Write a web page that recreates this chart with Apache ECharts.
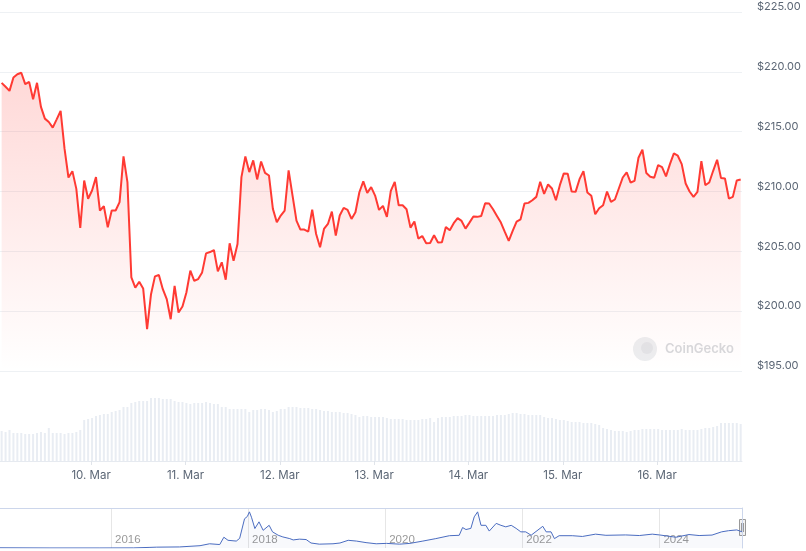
<!DOCTYPE html>
<html><head><meta charset="utf-8">
<script src="https://cdn.jsdelivr.net/npm/echarts@6/dist/echarts.min.js"></script>
<style>html,body{margin:0;padding:0;background:#fff}#c{width:806px;height:551px}</style>
</head><body><div id="c"></div>
<script>
// ---- data (hourly price, USD) ----
const firstTime = '2025-03-09T01:15';   // first hourly point
const lastTime = '2025-03-16T21:15';    // last hourly point
const axisStart = '2025-03-09T00:50';
const axisEnd = '2025-03-16T21:35';
const prices = [219.08,218.75,218.41,219.53,219.80,219.92,218.97,219.16,217.71,219.08,217.07,
216.09,215.81,215.34,216.03,216.73,213.58,211.17,211.70,210.22,206.96,210.92,
209.39,210.08,211.20,208.41,208.77,207.01,208.41,208.41,209.11,212.93,
210.78,202.82,201.96,202.46,201.90,198.49,201.42,202.91,203.02,201.84,
201.01,199.33,202.12,199.89,200.39,201.56,203.38,202.54,202.68,203.24,
204.83,204.94,205.11,203.32,204.08,202.63,205.67,204.22,205.61,211.20,
212.93,211.62,212.60,211.01,212.51,211.56,211.34,208.55,207.43,207.99,
208.41,211.76,209.66,207.57,206.82,206.82,206.65,208.49,206.45,205.34,
206.87,207.29,208.32,206.31,207.99,208.63,208.46,207.71,208.27,209.94,
210.84,209.89,210.36,209.66,208.46,
208.80,207.88,210.06,210.81,208.85,208.85,208.52,206.98,207.49,206.06,
206.28,205.67,205.70,206.34,205.73,205.75,207.04,206.76,207.35,207.77,
207.54,206.90,207.40,207.91,207.88,207.96,209.02,209.00,208.52,207.96,
207.40,206.62,205.87,206.70,207.49,207.68,209.00,209.05,209.27,209.55,
210.81,209.80,210.59,210.25,209.27,210.53,211.51,211.48,210.00,209.97,
211.03,211.70,209.92,209.64,208.10,208.60,208.85,210.00,209.13,209.33,
210.25,211.17,211.59,210.75,210.89,212.82,213.49,211.54,211.23,211.15,
212.21,212.04,211.26,212.29,213.18,212.99,212.29,210.67,210.00,209.55,
209.97,212.54,210.53,210.75,211.73,212.65,211.12,211.09,209.41,209.55,
210.92,211.01];
// hourly volume, million USD
const volumes = [3.0,2.9,3.1,2.8,2.8,2.8,2.7,2.7,2.7,2.8,2.9,2.8,3.3,2.8,2.8,2.8,2.7,2.8,2.8,2.9,3.1,
4.1,4.2,4.3,4.5,4.6,4.7,4.7,4.9,5.0,5.1,
5.4,5.4,5.8,5.9,6.0,6.0,6.0,6.3,6.3,6.3,
6.2,6.2,6.2,6.0,5.9,5.9,5.8,5.7,5.8,5.8,
5.8,5.9,5.8,5.7,5.7,5.4,5.4,5.2,5.2,5.2,
5.2,5.2,4.9,5.1,5.1,5.2,5.2,5.1,4.9,5.0,5.2,
5.2,5.4,5.4,5.4,5.3,5.3,5.3,5.2,5.2,5.1,
5.0,5.0,4.9,4.9,4.9,4.8,4.8,4.7,4.6,4.4,
4.5,4.5,4.4,4.4,4.4,4.4,4.3,4.2,4.2,
4.2,4.2,4.1,4.1,4.1,4.1,4.2,4.2,4.3,3.9,4.3,
4.4,4.4,4.4,4.5,4.5,4.5,4.6,4.6,4.5,4.5,
4.5,4.5,4.5,4.5,4.6,4.6,4.6,4.7,4.8,4.8,
4.7,4.7,4.6,4.6,4.6,4.6,4.4,4.3,4.3,4.2,
4.1,4.1,4.0,3.9,3.9,3.9,3.8,3.8,3.8,3.7,
3.6,3.3,3.2,3.1,3.0,3.0,3.0,2.9,3.0,3.1,
3.1,3.2,3.2,3.2,3.2,3.2,3.1,3.1,3.1,3.1,3.1,
3.2,3.1,3.1,3.1,3.1,3.2,3.3,3.3,3.4,3.5,
3.8,3.8,3.8,3.8,3.8,3.7];
const dayLabelMonth = 'Mar';
// ---- navigator: long-term history ----
const navDates = ['2014-05-20','2015-02-10','2015-11-03','2016-05-01','2016-07-27','2016-09-01','2017-01-01','2017-04-20','2017-06-10','2017-08-03',
'2017-08-25','2017-09-16','2017-10-30','2017-11-17','2017-12-13','2017-12-28','2018-01-08','2018-01-19','2018-02-06','2018-02-28',
'2018-03-22','2018-04-23','2018-05-11','2018-06-10','2018-07-05','2018-08-11','2018-08-29','2018-10-01','2018-11-06','2018-12-02',
'2019-01-15','2019-03-29','2019-05-05','2019-06-18','2019-08-01','2019-09-21','2019-11-14','2020-01-08','2020-03-18','2020-05-12',
'2020-07-20','2020-09-27','2020-12-09','2021-01-30','2021-02-17','2021-03-07','2021-04-02','2021-04-20','2021-05-08','2021-05-26',
'2021-06-21','2021-07-09','2021-08-15','2021-09-09','2021-10-05','2021-11-03','2021-11-29','2021-12-24','2022-01-19','2022-02-17',
'2022-04-20','2022-05-08','2022-06-03','2022-06-21','2022-07-16','2022-09-24','2022-11-17','2023-01-26','2023-03-22','2023-07-05',
'2023-09-16','2023-11-24','2024-01-01','2024-03-29','2024-06-07','2024-07-31','2024-10-08','2024-11-28','2025-01-04','2025-02-17','2025-03-16'];
const navPrices = [3,0.5,0.5,1.5,8,11,14,30,55,45,
140,100,90,125,380,410,470,400,253,340,
230,295,210,166,144,122,105,115,110,65,
50,55,65,100,90,70,55,60,50,60,
90,122,160,165,266,240,255,405,470,295,
295,220,320,295,275,295,255,210,210,166,
282,210,210,122,160,160,150,180,165,170,
162,180,170,140,175,162,168,210,225,235,211];

// ---- helpers ----
const base = Date.parse('2025-03-09T00:00Z');
const hrs = s => (Date.parse(s + 'Z') - base) / 3600000;
const h0 = hrs(firstTime), h1 = hrs(lastTime);
const step = (h1 - h0) / (prices.length - 1);
const hours = prices.map((_, i) => h0 + i * step);
const xMin = hrs(axisStart), xMax = hrs(axisEnd);
function fy(s){ const d = Date.parse(s + 'T00:00:00Z'); const y = +s.slice(0,4);
  const a = Date.UTC(y,0,1), b = Date.UTC(y+1,0,1); return y + (d - a) / (b - a); }
const navX = navDates.map(fy);
const navMin = navX[0], navMax = fy('2025-03-16') + 0.002;

const labelFont = 'Inter, "Noto Sans", sans-serif';
const chart = echarts.init(document.getElementById('c'));
chart.setOption({
  animation: false,
  backgroundColor: '#ffffff',
  grid: [
    {left: 0, right: 64, top: 12, bottom: 180},
    {left: 0, right: 64, top: 371, bottom: 90},
    {left: 0, right: 64, top: 508, bottom: 3}
  ],
  xAxis: [
    {type: 'value', gridIndex: 0, min: xMin, max: xMax, show: false},
    {type: 'value', gridIndex: 1, min: xMin, max: xMax, minInterval: 24, maxInterval: 24, splitNumber: 8,
     axisLine: {show: true, lineStyle: {color: '#e6eaf0'}},
     axisTick: {show: true, length: 4, lineStyle: {color: '#e0e4ea'}},
     splitLine: {show: false},
     axisLabel: {show: true, showMinLabel: false, showMaxLabel: false, margin: 9, color: '#5b6675', fontSize: 11.5, fontFamily: labelFont,
       formatter: v => (9 + Math.round(v / 24)) + '. ' + dayLabelMonth}},
    {type: 'value', gridIndex: 2, min: navMin, max: navMax, minInterval: 2, maxInterval: 2, splitNumber: 5,
     axisLine: {show: false}, axisTick: {show: false},
     splitLine: {show: true, showMinLine: false, showMaxLine: false, lineStyle: {color: '#e6e6e6'}},
     axisLabel: {show: true, inside: true, showMinLabel: false, showMaxLabel: false, align: 'left', margin: 2, padding: [0,0,0,4],
       color: '#9a9a9a', fontSize: 11.5, fontFamily: '"Liberation Sans", Arial, sans-serif', formatter: v => String(Math.round(v))}},
    {type: 'value', gridIndex: 2, position: 'top', min: navMin, max: navMax,
     axisLine: {show: true, lineStyle: {color: '#ccd6eb'}}, axisTick: {show: false}, axisLabel: {show: false}, splitLine: {show: false}}
  ],
  yAxis: [
    {type: 'value', gridIndex: 0, position: 'right', min: 195, max: 225, interval: 5,
     axisLine: {show: false}, axisTick: {show: false},
     splitLine: {show: true, lineStyle: {color: '#eef1f4'}},
     axisLabel: {margin: 15, color: '#5b6675', fontSize: 11, fontFamily: labelFont, verticalAlign: 'bottom', lineHeight: 10,
       formatter: v => '$' + v.toFixed(2)}},
    {type: 'value', gridIndex: 1, min: 0, max: 9, show: false},
    {type: 'value', gridIndex: 2, position: 'right', min: 0, max: 520,
     axisLine: {show: true, lineStyle: {color: '#ccd6eb'}}, axisTick: {show: false}, axisLabel: {show: false}, splitLine: {show: false}}
  ],
  series: [
    {type: 'bar', xAxisIndex: 1, yAxisIndex: 1, barWidth: 2,
     itemStyle: {color: '#e9edf3'}, data: volumes.map((v, i) => [hours[i], v]), z: 1},
    {type: 'line', xAxisIndex: 0, yAxisIndex: 0, showSymbol: false, smooth: false,
     lineStyle: {color: '#ff3a33', width: 2},
     areaStyle: {origin: 'start', color: new echarts.graphic.LinearGradient(0, 0, 0, 1, [
       {offset: 0, color: 'rgba(255,58,51,0.28)'}, {offset: 1, color: 'rgba(255,58,51,0)'}])},
     data: prices.map((p, i) => [hours[i], p]), z: 3},
    {type: 'line', xAxisIndex: 2, yAxisIndex: 2, showSymbol: false, smooth: false,
     lineStyle: {color: '#4a6cc0', width: 1},
     areaStyle: {color: 'rgba(51,92,173,0.05)'},
     data: navPrices.map((p, i) => [navX[i], p])}
  ],
  graphic: [
    {type: 'group', left: 633, top: 337, silent: true, children: [
      {type: 'circle', shape: {cx: 12, cy: 12, r: 12}, style: {fill: '#eceef0'}},
      {type: 'circle', shape: {cx: 14, cy: 11, r: 6}, style: {fill: '#e2e4e7'}},
      {type: 'text', x: 32, y: 12, style: {text: 'CoinGecko', fill: '#d7d9dc', font: '600 13px ' + labelFont, verticalAlign: 'middle'}}
    ]},
    {type: 'group', left: 739, top: 519, silent: true, children: [
      {type: 'rect', shape: {x: 0.5, y: 0.5, width: 6, height: 16}, style: {fill: '#f2f2f2', stroke: '#999', lineWidth: 1}},
      {type: 'line', shape: {x1: 2.5, y1: 4, x2: 2.5, y2: 13}, style: {stroke: '#999', lineWidth: 1}},
      {type: 'line', shape: {x1: 4.5, y1: 4, x2: 4.5, y2: 13}, style: {stroke: '#999', lineWidth: 1}}
    ]}
  ]
});
</script></body></html>
